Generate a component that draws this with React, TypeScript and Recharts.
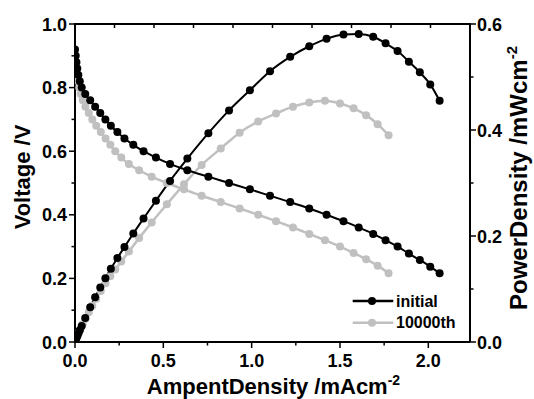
import React from 'react';
import { LineChart, Line, XAxis, YAxis, Legend } from 'recharts';

// ---------- data ----------
const initialCurrent = [0.000, 0.004, 0.008, 0.013, 0.019, 0.027, 0.038, 0.058, 0.086, 0.114, 0.143, 0.172, 0.203, 0.240, 0.280, 0.330, 0.388, 0.458, 0.538, 0.636, 0.755, 0.872, 0.990, 1.104, 1.218, 1.326, 1.424, 1.520, 1.606, 1.688, 1.758, 1.826, 1.890, 1.952, 2.011, 2.064];
const initialVoltage = [0.92, 0.90, 0.88, 0.86, 0.84, 0.82, 0.80, 0.78, 0.76, 0.74, 0.72, 0.70, 0.68, 0.66, 0.64, 0.62, 0.60, 0.58, 0.56, 0.54, 0.52, 0.50, 0.48, 0.46, 0.44, 0.42, 0.40, 0.38, 0.36, 0.34, 0.32, 0.300, 0.278, 0.258, 0.237, 0.216];
const initialPower = [0, 0.0036, 0.0070, 0.0112, 0.0160, 0.0221, 0.0304, 0.0452, 0.0654, 0.0844, 0.1030, 0.1204, 0.1380, 0.1584, 0.1792, 0.2046, 0.2330, 0.2666, 0.3040, 0.3460, 0.3940, 0.4370, 0.4750, 0.5110, 0.5380, 0.5580, 0.5720, 0.5800, 0.5810, 0.5760, 0.5636, 0.5490, 0.5290, 0.5090, 0.4860, 0.4550];

const agedCurrent = [0.000, 0.004, 0.008, 0.013, 0.018, 0.024, 0.032, 0.044, 0.059, 0.078, 0.098, 0.120, 0.146, 0.173, 0.200, 0.228, 0.262, 0.305, 0.363, 0.434, 0.520, 0.617, 0.717, 0.825, 0.932, 1.037, 1.138, 1.234, 1.326, 1.415, 1.500, 1.577, 1.648, 1.713, 1.775];
const agedVoltage = [0.90, 0.88, 0.86, 0.84, 0.82, 0.80, 0.78, 0.76, 0.74, 0.72, 0.70, 0.68, 0.66, 0.64, 0.62, 0.60, 0.58, 0.56, 0.54, 0.52, 0.50, 0.48, 0.46, 0.44, 0.42, 0.40, 0.38, 0.36, 0.34, 0.32, 0.30, 0.28, 0.26, 0.24, 0.216];
const agedPower = [0, 0.0035, 0.0069, 0.0109, 0.0148, 0.0192, 0.0250, 0.0334, 0.0437, 0.0562, 0.0686, 0.0816, 0.0964, 0.1107, 0.1240, 0.1368, 0.1520, 0.1708, 0.1960, 0.2257, 0.2600, 0.2975, 0.3340, 0.3650, 0.3950, 0.4160, 0.4310, 0.4440, 0.4520, 0.4550, 0.4500, 0.4410, 0.4280, 0.4110, 0.3900];

const seriesNames = ['initial', '10000th'];
const seriesColors = ['#000000', '#c0c0c0'];

const xTicks = [0, 0.25, 0.5, 0.75, 1.0, 1.25, 1.5, 1.75, 2.0];
const voltageTicks = [0, 0.1, 0.2, 0.3, 0.4, 0.5, 0.6, 0.7, 0.8, 0.9, 1.0];
const powerTicks = [0, 0.1, 0.2, 0.3, 0.4, 0.5, 0.6];
const topTickCount = 10;

const xTitle = 'AmpentDensity /mAcm';
const leftTitle = 'Voltage /V';
const rightTitle = 'PowerDensity /mWcm';
const unitSup = '-2';

// ---------- build tables ----------
const toRows = (cur: number[], vals: number[]) => cur.map((c, k) => ({ i: c, y: vals[k] }));
const initialVData = toRows(initialCurrent, initialVoltage);
const initialPData = toRows(initialCurrent, initialPower);
const agedVData = toRows(agedCurrent, agedVoltage);
const agedPData = toRows(agedCurrent, agedPower);

// ---------- layout ----------
const W = 534;
const H = 399;
const MARGIN_TOP = 24;
const LEFT_AXIS_W = 75;
const RIGHT_AXIS_W = 64;
const BOTTOM_AXIS_H = 57;

const FONT = '"Liberation Sans", Arial, Helvetica, sans-serif';
const isMajor = (v: number, step: number) => Math.abs(v / step - Math.round(v / step)) < 1e-6;

const BottomTick = (props: any) => {
  const { x, y, payload } = props;
  const major = isMajor(payload.value, 0.5);
  return (
    <g>
      <line x1={x} y1={y} x2={x} y2={y + (major ? 6 : 3.5)} stroke="#000" strokeWidth={1.5} />
      {major && (
        <text x={x} y={y + 25} textAnchor="middle" fontFamily={FONT} fontWeight="bold" fontSize={18} fill="#000">
          {payload.value.toFixed(1)}
        </text>
      )}
    </g>
  );
};

const LeftTick = (props: any) => {
  const { x, y, payload } = props;
  const major = isMajor(payload.value, 0.2);
  return (
    <g>
      <line x1={x} y1={y} x2={x - (major ? 6 : 3.5)} y2={y} stroke="#000" strokeWidth={1.5} />
      {major && (
        <text x={x - 8} y={y + 6.5} textAnchor="end" fontFamily={FONT} fontWeight="bold" fontSize={18} fill="#000">
          {payload.value.toFixed(1)}
        </text>
      )}
    </g>
  );
};

const RightTick = (props: any) => {
  const { x, y, payload } = props;
  const major = isMajor(payload.value, 0.2);
  return (
    <g>
      <line x1={x} y1={y} x2={x + (major ? 6 : 3.5)} y2={y} stroke="#000" strokeWidth={1.5} />
      {major && (
        <text x={x + 7} y={y + 6.5} textAnchor="start" fontFamily={FONT} fontWeight="bold" fontSize={18} fill="#000">
          {payload.value.toFixed(1)}
        </text>
      )}
    </g>
  );
};

const XTitle = (props: any) => {
  const vb = props.viewBox;
  return (
    <text x={vb.x + vb.width / 2 + 1} y={vb.y + 52} textAnchor="middle" fontFamily={FONT} fontWeight="bold" fontSize={22} fill="#000">
      {xTitle}
      <tspan dy={-9} fontSize={14}>{unitSup}</tspan>
    </text>
  );
};

const LeftTitle = (props: any) => {
  const vb = props.viewBox;
  const cx = vb.x + 30;
  const cy = vb.y + vb.height / 2 - 6;
  return (
    <text transform={`translate(${cx},${cy}) rotate(-90)`} x={0} y={0} textAnchor="middle" fontFamily={FONT} fontWeight="bold" fontSize={22} fill="#000">
      {leftTitle}
    </text>
  );
};

const RightTitle = (props: any) => {
  const vb = props.viewBox;
  const cx = vb.x + 57;
  const cy = vb.y + vb.height / 2 - 5;
  return (
    <text transform={`translate(${cx},${cy}) rotate(-90)`} x={0} y={0} textAnchor="middle" fontFamily={FONT} fontWeight="bold" fontSize={24} fill="#000">
      {rightTitle}
      <tspan dy={-10} fontSize={15}>{unitSup}</tspan>
    </text>
  );
};

const renderLegend = () => (
  <svg width={140} height={44} style={{ display: 'block', overflow: 'visible' }}>
    {seriesNames.map((name, k) => {
      const y = 11 + k * 21.7;
      return (
        <g key={name}>
          <line x1={2.7} x2={43.3} y1={y} y2={y} stroke={seriesColors[k]} strokeWidth={2.5} />
          <circle cx={22} cy={y} r={4} fill={seriesColors[k]} />
          <text x={46} y={y + 5.7} fontFamily={FONT} fontWeight="bold" fontSize={16} fill="#000">{name}</text>
        </g>
      );
    })}
  </svg>
);

// top edge of the plot frame with inward minor ticks (Origin-style box)
const TopFrame = () => {
  const left = LEFT_AXIS_W;
  const right = W - RIGHT_AXIS_W;
  const ticks = Array.from({ length: topTickCount + 1 }, (_, k) => left + (k * (right - left)) / topTickCount);
  return (
    <svg width={W} height={H} style={{ position: 'absolute', left: 0, top: 0, pointerEvents: 'none' }}>
      <line x1={left - 1} x2={right + 1} y1={MARGIN_TOP} y2={MARGIN_TOP} stroke="#000" strokeWidth={2} />
      {ticks.map((tx, k) => (
        <line key={k} x1={tx} x2={tx} y1={MARGIN_TOP} y2={MARGIN_TOP + 4} stroke="#000" strokeWidth={1.5} />
      ))}
    </svg>
  );
};

export default function App() {
  return (
    <div style={{ position: 'absolute', left: 0, top: 0, width: W, height: H, background: '#fff' }}>
      <LineChart width={W} height={H} margin={{ top: MARGIN_TOP, right: 0, bottom: 0, left: 0 }}>
        <XAxis
          xAxisId="b"
          type="number"
          dataKey="i"
          domain={[0, 2.236]}
          allowDataOverflow
          ticks={xTicks}
          interval={0}
          height={BOTTOM_AXIS_H}
          tickSize={0}
          tickMargin={0}
          tickLine={false}
          tick={<BottomTick />}
          axisLine={{ stroke: '#000', strokeWidth: 2 }}
          label={XTitle}
        />
        <YAxis
          yAxisId="v"
          type="number"
          domain={[0, 1]}
          allowDataOverflow
          ticks={voltageTicks}
          interval={0}
          width={LEFT_AXIS_W}
          tickSize={0}
          tickMargin={0}
          tickLine={false}
          tick={<LeftTick />}
          axisLine={{ stroke: '#000', strokeWidth: 2 }}
          label={LeftTitle}
        />
        <YAxis
          yAxisId="p"
          orientation="right"
          type="number"
          domain={[0, 0.6]}
          allowDataOverflow
          ticks={powerTicks}
          interval={0}
          width={RIGHT_AXIS_W}
          tickSize={0}
          tickMargin={0}
          tickLine={false}
          tick={<RightTick />}
          axisLine={{ stroke: '#000', strokeWidth: 2 }}
          label={RightTitle}
        />
        <Line xAxisId="b" yAxisId="v" data={agedVData} dataKey="y" name="10000th V" type="monotone" stroke={seriesColors[1]} strokeWidth={2.5} dot={{ r: 4, fill: seriesColors[1], stroke: 'none' }} isAnimationActive={false} />
        <Line xAxisId="b" yAxisId="p" data={agedPData} dataKey="y" name="10000th P" type="monotone" stroke={seriesColors[1]} strokeWidth={2.5} dot={{ r: 4, fill: seriesColors[1], stroke: 'none' }} isAnimationActive={false} />
        <Line xAxisId="b" yAxisId="v" data={initialVData} dataKey="y" name="initial V" type="monotone" stroke={seriesColors[0]} strokeWidth={2} dot={{ r: 4, fill: seriesColors[0], stroke: 'none' }} isAnimationActive={false} />
        <Line xAxisId="b" yAxisId="p" data={initialPData} dataKey="y" name="initial P" type="monotone" stroke={seriesColors[0]} strokeWidth={2} dot={{ r: 4, fill: seriesColors[0], stroke: 'none' }} isAnimationActive={false} />
        <Legend
          layout="vertical"
          verticalAlign="middle"
          align="center"
          content={renderLegend}
          wrapperStyle={{ position: 'absolute', left: 350, top: 290, width: 140, height: 44 }}
        />
      </LineChart>
      <TopFrame />
    </div>
  );
}
